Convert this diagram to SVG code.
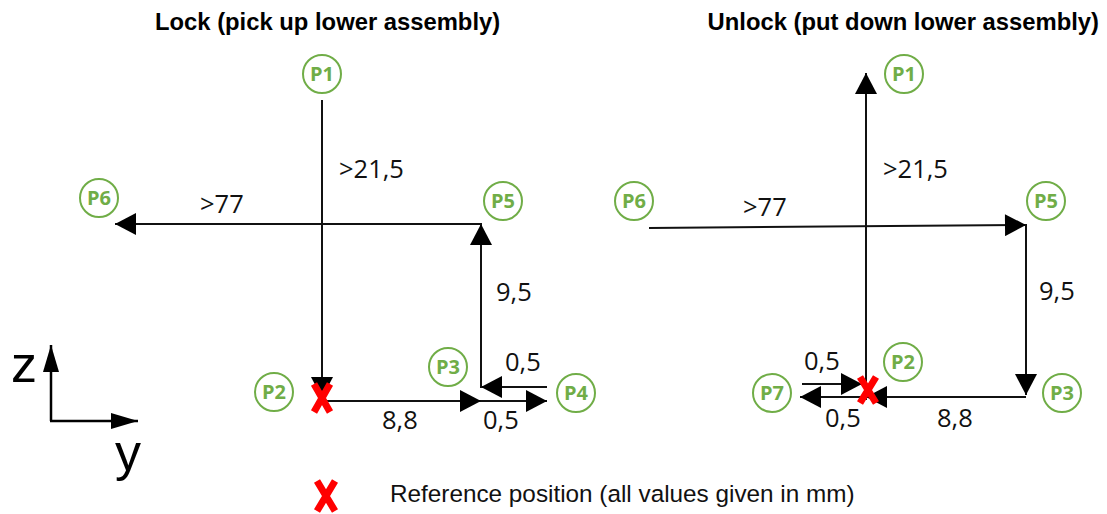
<svg xmlns="http://www.w3.org/2000/svg" width="1107" height="514" viewBox="0 0 1107 514">
<defs>
<marker id="ah" markerUnits="userSpaceOnUse" markerWidth="22" markerHeight="22" viewBox="0 0 21 22" refX="21" refY="11" orient="auto">
<path d="M0,0 L21,11 L0,22 Z" fill="#000"/>
</marker>
<marker id="axh" markerUnits="userSpaceOnUse" markerWidth="27" markerHeight="16" viewBox="0 0 27 16" refX="27" refY="8" orient="auto">
<path d="M0,0 L27,8 L0,16 Z" fill="#000"/>
</marker>
</defs>
<style>
.ln{stroke:#111;stroke-width:2;fill:none}
.ar{marker-end:url(#ah)}
.ax{stroke:#000;stroke-width:2.5;fill:none;marker-end:url(#axh)}
.nc{fill:#fff;stroke:#70AD47;stroke-width:2}
.nt{font-family:"Open Sans","DejaVu Sans",sans-serif;font-weight:bold;font-size:20px;fill:#70AD47;text-anchor:middle}
.lb{font-family:"Open Sans","DejaVu Sans",sans-serif;font-size:25.5px;fill:#111}
.ti{font-family:"Liberation Sans",Arial,sans-serif;font-weight:bold;font-size:23.8px;fill:#000}
.lg{font-family:"Liberation Sans",Arial,sans-serif;font-size:24.3px;fill:#111}
.axl{font-family:"Liberation Sans",Arial,sans-serif;font-size:52px;fill:#000}
.rx{stroke:#FF0000;stroke-width:7;stroke-linecap:butt;fill:none}
</style>

<text class="ti" x="155" y="30">Lock (pick up lower assembly)</text>
<text class="ti" x="1099" y="30" text-anchor="end">Unlock (put down lower assembly)</text>

<g id="connectors">
<!-- left -->
<line class="ln ar" x1="322" y1="100" x2="322" y2="398"/>
<line class="ln ar" x1="322" y1="401" x2="481" y2="401"/>
<line class="ln ar" x1="481" y1="401" x2="547" y2="401"/>
<line class="ln ar" x1="547" y1="387" x2="481" y2="387"/>
<line class="ln ar" x1="481" y1="388" x2="481" y2="224"/>
<line class="ln ar" x1="482" y1="224" x2="115" y2="224"/>
<!-- right -->
<line class="ln ar" x1="866" y1="400" x2="866" y2="73"/>
<line class="ln ar" x1="649" y1="228" x2="1026" y2="225"/>
<line class="ln ar" x1="1026" y1="224" x2="1026" y2="395"/>
<line class="ln ar" x1="1026" y1="397" x2="866" y2="397"/>
<line class="ln ar" x1="866" y1="397" x2="800" y2="397"/>
<line class="ln ar" x1="802" y1="384" x2="862" y2="384"/>
</g>

<g id="labels">
<text class="lb" x="339" y="178">&gt;21,5</text>
<text class="lb" x="200" y="213">&gt;77</text>
<text class="lb" x="496" y="301">9,5</text>
<text class="lb" x="505" y="371">0,5</text>
<text class="lb" x="382" y="429">8,8</text>
<text class="lb" x="483" y="429">0,5</text>
<text class="lb" x="883" y="178">&gt;21,5</text>
<text class="lb" x="743" y="216">&gt;77</text>
<text class="lb" x="1039" y="300">9,5</text>
<text class="lb" x="804" y="370">0,5</text>
<text class="lb" x="825" y="427">0,5</text>
<text class="lb" x="937" y="427">8,8</text>
</g>

<g id="L-P1"><circle class="nc" cx="322" cy="74" r="19"/><text class="nt" x="322" y="81">P1</text></g>
<g id="L-P2"><circle class="nc" cx="274" cy="392" r="19"/><text class="nt" x="274" y="399">P2</text></g>
<g id="L-P3"><circle class="nc" cx="448" cy="367" r="19"/><text class="nt" x="448" y="374">P3</text></g>
<g id="L-P4"><circle class="nc" cx="576" cy="393" r="19"/><text class="nt" x="576" y="400">P4</text></g>
<g id="L-P5"><circle class="nc" cx="503" cy="201" r="19"/><text class="nt" x="503" y="208">P5</text></g>
<g id="L-P6"><circle class="nc" cx="99" cy="198" r="19"/><text class="nt" x="99" y="205">P6</text></g>

<g id="R-P1"><circle class="nc" cx="904" cy="74" r="19"/><text class="nt" x="904" y="81">P1</text></g>
<g id="R-P2"><circle class="nc" cx="903" cy="362" r="19"/><text class="nt" x="903" y="369">P2</text></g>
<g id="R-P3"><circle class="nc" cx="1062" cy="393" r="19"/><text class="nt" x="1062" y="400">P3</text></g>
<g id="R-P5"><circle class="nc" cx="1046" cy="201" r="19"/><text class="nt" x="1046" y="208">P5</text></g>
<g id="R-P6"><circle class="nc" cx="634" cy="201" r="19"/><text class="nt" x="634" y="208">P6</text></g>
<g id="R-P7"><circle class="nc" cx="772" cy="393" r="19"/><text class="nt" x="772" y="400">P7</text></g>

<g id="ref-left"><path class="rx" d="M314,384 L330,412 M330,384 L314,412"/></g>
<g id="ref-right"><path class="rx" d="M860,377 L876,403 M876,377 L860,403"/></g>

<g id="axes">
<line class="ax" x1="51" y1="421" x2="51" y2="345"/>
<line class="ax" x1="50" y1="421" x2="138" y2="421"/>
<text class="axl" x="11" y="382">z</text>
<text class="axl" x="115" y="470">y</text>
</g>

<g id="legend">
<path class="rx" d="M317,481 L335,511 M335,481 L317,511"/>
<text class="lg" x="390" y="502">Reference position (all values given in mm)</text>
</g>
</svg>
